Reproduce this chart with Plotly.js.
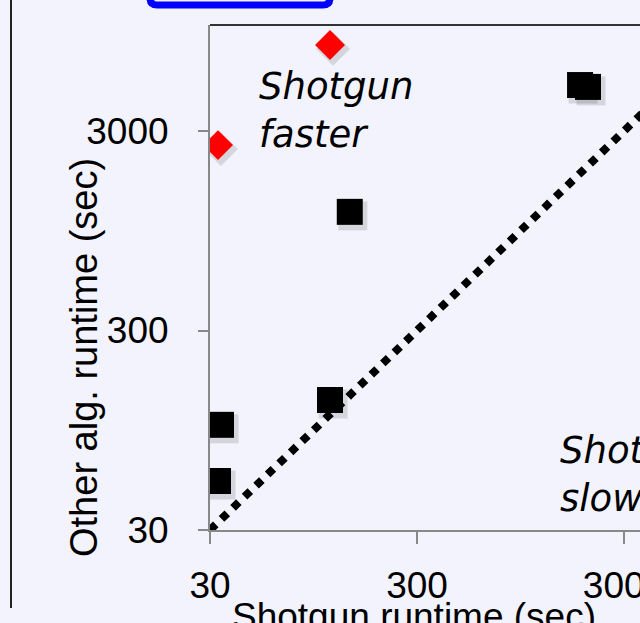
<!DOCTYPE html>
<html><head><meta charset="utf-8">
<script src="https://cdn.plot.ly/plotly-3.0.1.min.js"></script>
<style>html,body{margin:0;padding:0;overflow:hidden;background:#f3f3fd;width:640px;height:623px}</style>
</head><body><div id="chart"></div>
<script>
// data (seconds)
const fasterX = [32.8, 114];
const fasterY = [2550, 8100];
const otherX = [142, 33.9, 32.8, 114, 1840, 2010];
const otherY = [1180, 101, 52.8, 134.5, 5100, 4990];
const diagX = [30, 7000];
const diagY = [30, 7000];
const tickVals = [30, 300, 3000];
const tickText = ['30', '300', '3000'];

const W = 720, H = 623;
const L = 210, T = 25, B = 93, R = 20;
const pw = W - L - R, ph = H - T - B;
const pxPerDecX = 207, pxPerDecY = 199.5;
const px = x => (x - L) / pw;
const py = y => (H - B - y) / ph;

const bg = '#f3f3fd';
const font = 'Liberation Sans, Arial, sans-serif';

// soft drop shadow: same points shifted a few screen pixels right/down
const shX = v => v.map(a => a * Math.pow(10, 3 / pxPerDecX));
const shY = v => v.map(a => a / Math.pow(10, 4 / pxPerDecY));

const traces = [
  {x: shX(otherX), y: shY(otherY), mode: 'markers', marker: {symbol: 'square', size: 29, color: 'rgba(0,0,0,0.12)'}, hoverinfo: 'skip'},
  {x: shX(fasterX), y: shY(fasterY), mode: 'markers', marker: {symbol: 'diamond', size: 26, color: 'rgba(0,0,0,0.12)'}, hoverinfo: 'skip'},
  {x: diagX, y: diagY, mode: 'lines', line: {color: '#000', width: 8, dash: 'dot'}, hoverinfo: 'skip'},
  {x: otherX, y: otherY, mode: 'markers', marker: {symbol: 'square', size: 26, color: '#000'}},
  {x: fasterX, y: fasterY, mode: 'markers', marker: {symbol: 'diamond', size: 23, color: '#ff0000'}}
];

const blueR = 7;
const bx0 = px(150), bx1 = px(330), byb = py(5), byt = py(-40);
const rx = blueR / pw, ry = blueR / ph;
const bluePath = `M ${bx0} ${byt} L ${bx0} ${byb + ry} Q ${bx0} ${byb} ${bx0 + rx} ${byb} L ${bx1 - rx} ${byb} Q ${bx1} ${byb} ${bx1} ${byb + ry} L ${bx1} ${byt}`;

const layout = {
  width: W, height: H,
  margin: {l: L, r: R, t: T, b: B},
  paper_bgcolor: bg, plot_bgcolor: bg,
  showlegend: false,
  font: {family: font, color: '#000'},
  xaxis: {
    type: 'log', range: [Math.log10(30), Math.log10(30) + pw / pxPerDecX],
    tickvals: tickVals, ticktext: tickText,
    ticks: 'outside', ticklen: 12, tickcolor: '#888', tickwidth: 2,
    showline: true, linecolor: '#888', linewidth: 2,
    showgrid: false, zeroline: false,
    tickfont: {size: 37, family: font}, ticklabelstandoff: 10
  },
  yaxis: {
    type: 'log', range: [Math.log10(30), Math.log10(30) + ph / pxPerDecY],
    tickvals: tickVals, ticktext: tickText,
    ticks: 'outside', ticklen: 10, tickcolor: '#888', tickwidth: 2,
    showline: true, linecolor: '#888', linewidth: 2,
    showgrid: false, zeroline: false,
    tickfont: {size: 37, family: font}, ticklabelstandoff: 22
  },
  shapes: [
    {type: 'line', xref: 'paper', yref: 'paper', x0: 0, x1: px(W), y0: 1, y1: 1, line: {color: '#333', width: 2}},
    {type: 'line', xref: 'paper', yref: 'paper', x0: px(11), x1: px(11), y0: py(-5), y1: py(608), line: {color: '#222', width: 2}},
    {type: 'path', xref: 'paper', yref: 'paper', path: bluePath, line: {color: '#0000ff', width: 7}}
  ],
  annotations: [
    {xref: 'paper', yref: 'paper', x: px(414), y: py(616), text: 'Shotgun runtime (sec)', showarrow: false,
     font: {size: 37, family: font}, xanchor: 'center', yanchor: 'middle'},
    {xref: 'paper', yref: 'paper', x: px(84), y: py(358), text: 'Other alg. runtime (sec)', showarrow: false,
     textangle: -90, font: {size: 38, family: font}, xanchor: 'center', yanchor: 'middle'},
    {xref: 'paper', yref: 'paper', x: px(257), y: py(110), text: 'Shotgun<br>faster', showarrow: false, align: 'left',
     font: {size: 37, family: 'DejaVu Sans, Verdana, sans-serif', style: 'italic'}, xanchor: 'left', yanchor: 'middle'},
    {xref: 'paper', yref: 'paper', x: px(558), y: py(474), text: 'Shotgun<br>slower', showarrow: false, align: 'left',
     font: {size: 37, family: 'DejaVu Sans, Verdana, sans-serif', style: 'italic'}, xanchor: 'left', yanchor: 'middle'}
  ]
};

Plotly.newPlot('chart', traces, layout, {displayModeBar: false, staticPlot: true});
</script></body></html>
